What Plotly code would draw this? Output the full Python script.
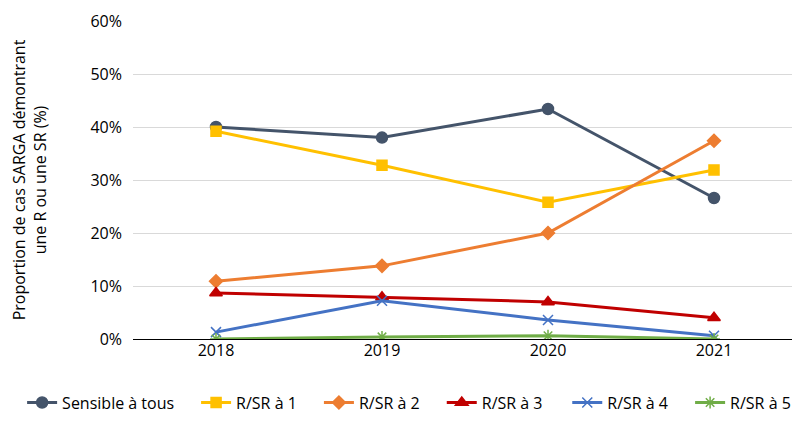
import plotly.graph_objects as go

years = ["2018", "2019", "2020", "2021"]
series_names = ["Sensible à tous", "R/SR à 1", "R/SR à 2", "R/SR à 3", "R/SR à 4", "R/SR à 5"]
sensible = [40.0, 38.0, 43.4, 26.6]
rsr1 = [39.2, 32.8, 25.8, 31.9]
rsr2 = [10.9, 13.8, 20.0, 37.4]
rsr3 = [8.7, 7.9, 7.0, 4.0]
rsr4 = [1.3, 7.2, 3.6, 0.6]
rsr5 = [0.0, 0.4, 0.6, 0.0]
y_ticks = [0, 10, 20, 30, 40, 50, 60]

colors = ["#44546A", "#FFC000", "#ED7D31", "#C00000", "#4472C4", "#70AD47"]
symbols = ["circle", "square", "diamond", "triangle-up", "x-thin-open", "asterisk-open"]
sizes = [11, 10, 10, 11, 10, 10]
values = [sensible, rsr1, rsr2, rsr3, rsr4, rsr5]
legend_x = [-0.167, 0.095, 0.280, 0.465, 0.654, 0.839]

FONT = "Open Sans, Liberation Sans, sans-serif"

fig = go.Figure()
legend_ids = ["legend"] + [f"legend{i}" for i in range(2, 7)]
for lid, name, vals, c, s, sz in zip(legend_ids, series_names, values, colors, symbols, sizes):
    fig.add_trace(go.Scatter(
        x=years, y=vals, name=name, mode="lines+markers",
        line=dict(color=c, width=3),
        marker=dict(symbol=s, size=sz, color=c, line=dict(color=c, width=1.5)),
        legend=lid,
    ))

leg_common = dict(orientation="h", xanchor="left", y=-0.2, yanchor="middle",
                  font=dict(family=FONT, size=16, color="#000000"), itemwidth=30,
                  traceorder="normal", tracegroupgap=0, bgcolor="rgba(0,0,0,0)")

legend_layout = {lid: dict(x=lx, **leg_common) for lid, lx in zip(legend_ids, legend_x)}

fig.update_layout(
    width=792, height=418,
    margin=dict(l=125, r=3, t=13, b=87),
    paper_bgcolor="white", plot_bgcolor="white",
    font=dict(family=FONT, size=16, color="#000000"),
    showlegend=True,
    **legend_layout,
)
fig.update_xaxes(type="category", range=[-0.5, 3.5], showgrid=False, showline=False,
                 ticks="", tickfont=dict(size=16, color="#000000"))
fig.update_yaxes(range=[0, 60], tickvals=y_ticks, ticktext=[f"{v}%" for v in y_ticks],
                 showgrid=True, gridcolor="#D9D9D9", gridwidth=1,
                 zeroline=True, zerolinecolor="#000000", zerolinewidth=1,
                 ticks="", ticklabelstandoff=10, tickfont=dict(size=16, color="#000000"),
                 title=dict(text="Proportion de cas SARGA démontrant<br>une R ou une SR (%)",
                            font=dict(size=16, color="#000000"), standoff=42))
fig.write_html("out.html")
